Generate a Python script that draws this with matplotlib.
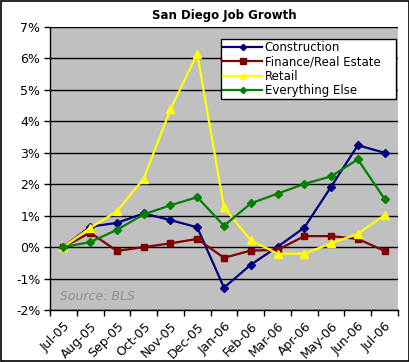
import matplotlib
matplotlib.use("Agg")
import matplotlib.pyplot as plt
from matplotlib.patches import Rectangle
import numpy as np

months = ["Jul-05", "Aug-05", "Sep-05", "Oct-05", "Nov-05", "Dec-05", "Jan-06",
          "Feb-06", "Mar-06", "Apr-06", "May-06", "Jun-06", "Jul-06"]
construction = [0.0, 0.65, 0.77, 1.07, 0.86, 0.63, -1.29, -0.56, 0.01, 0.62, 1.92, 3.24, 3.0]
finance = [0.0, 0.46, -0.12, 0.0, 0.12, 0.26, -0.34, -0.11, -0.09, 0.35, 0.35, 0.26, -0.12]
retail = [0.0, 0.61, 1.14, 2.18, 4.38, 6.15, 1.26, 0.22, -0.21, -0.21, 0.12, 0.42, 1.02]
everything_else = [0.0, 0.16, 0.55, 1.04, 1.33, 1.59, 0.68, 1.39, 1.70, 2.01, 2.25, 2.79, 1.53]
yticks = [-2, -1, 0, 1, 2, 3, 4, 5, 6, 7]

fig = plt.figure(figsize=(4.1, 3.62), dpi=100)
fig.patches.append(Rectangle((0.002, 0.003), 0.995, 0.994, transform=fig.transFigure,
                             fill=False, edgecolor="black", linewidth=1.2))
ax = fig.add_axes([50/410, 1-310/362, 348/410, 283/362])
ax.set_facecolor("#C0C0C0")

x = np.arange(len(months))
series = [
    ("Construction", construction, "#000080", "D", 4),
    ("Finance/Real Estate", finance, "#800000", "s", 5),
    ("Retail", retail, "#FFFF00", "^", 5.5),
    ("Everything Else", everything_else, "#008000", "D", 4),
]
for name, vals, col, mk, ms in series:
    ax.plot(x, vals, color=col, marker=mk, markersize=ms, linewidth=1.6,
            markeredgecolor=col, markerfacecolor=col, label=name, zorder=3)

ax.set_xlim(-0.5, len(months) - 0.5)
ax.set_ylim(-2, 7)
ax.set_yticks(yticks)
ax.set_yticklabels([f"{v}%" for v in yticks], fontsize=9)
ax.yaxis.grid(True, color="black", linewidth=1.0)
ax.set_axisbelow(True)
ax.tick_params(axis="y", direction="out", length=4, width=1, pad=3)

ax.set_xticks(x)
ax.set_xticklabels(months, rotation=45, ha="right", rotation_mode="anchor", fontsize=9)
ax.tick_params(axis="x", which="major", length=0, pad=7)
ax.set_xticks(np.arange(-0.5, len(months) + 0.5, 1), minor=True)
ax.tick_params(axis="x", which="minor", direction="out", length=4, width=1)

for s in ["top", "right"]:
    ax.spines[s].set_visible(False)
for s in ["left", "bottom"]:
    ax.spines[s].set_color("black")
    ax.spines[s].set_linewidth(1.0)

ax.set_title("San Diego Job Growth", fontsize=8.5, fontweight="bold", pad=6)

lx0 = (221 - 50) / 348
lw = (396 - 221) / 348
ltop = (310 - 39) / 283
leg = ax.legend(loc="upper left", bbox_to_anchor=(lx0, ltop - 0.3, lw, 0.3), mode="expand",
                fontsize=8.5, frameon=True, fancybox=False, edgecolor="black", framealpha=1,
                borderpad=0.2, labelspacing=0.1, handlelength=3.3, handletextpad=0.2,
                borderaxespad=0, markerscale=0.8)
leg.get_frame().set_linewidth(1.0)

ax.text(0.03, 0.035, "Source: BLS", transform=ax.transAxes, fontsize=9,
        style="italic", color="#909090")

fig.savefig("out.png", dpi=100)
